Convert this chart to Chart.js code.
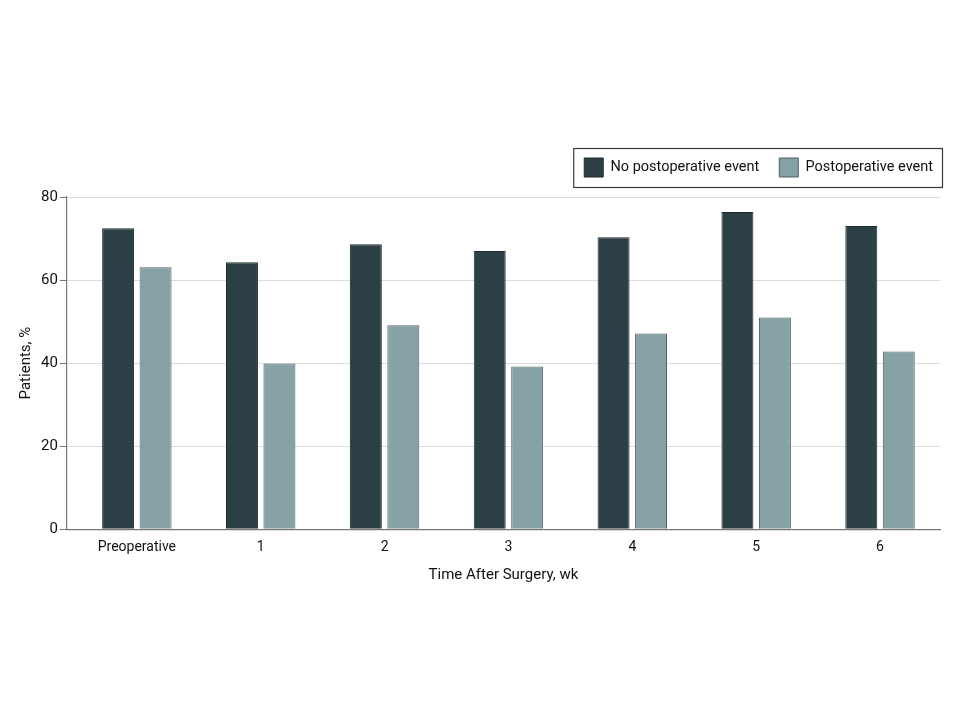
<!DOCTYPE html>
<html>
<head>
<meta charset="utf-8">
<script src="https://cdn.jsdelivr.net/npm/chart.js@4.4.1/dist/chart.umd.min.js"></script>
<style>
  html, body { margin: 0; padding: 0; background: #ffffff; }
  #wrap { width: 960px; height: 720px; }
</style>
</head>
<body>
<div id="wrap"><canvas id="eventChart" width="960" height="720"></canvas></div>
<script>
const categories = ["Preoperative", "1", "2", "3", "4", "5", "6"];
const noEventValues = [72.5, 64.3, 68.6, 67.0, 70.3, 76.4, 73.0];
const eventValues = [63.1, 39.9, 49.1, 39.2, 47.1, 51.0, 42.8];
const yTicks = [0, 20, 40, 60, 80];

const FONT = "Roboto, 'Open Sans', sans-serif";
const LEGEND_SHIFT = 13;

// extra room under the legend, nudge it right, and frame its items
const legendFrame = {
  id: "legendFrame",
  afterInit(chart) {
    const fit = chart.legend.fit;
    chart.legend.fit = function () {
      fit.call(this);
      this.height += 10;
    };
  },
  beforeDraw(chart) {
    const lg = chart.legend;
    lg.left += LEGEND_SHIFT;
    lg.right += LEGEND_SHIFT;
    lg.legendHitBoxes.forEach(b => { b.left += LEGEND_SHIFT; });
  },
  afterDraw(chart) {
    const boxes = chart.legend.legendHitBoxes;
    if (!boxes || !boxes.length) return;
    const left = Math.min(...boxes.map(b => b.left)) - 11;
    const right = Math.max(...boxes.map(b => b.left + b.width)) + 9;
    const top = Math.min(...boxes.map(b => b.top)) - 10;
    const bottom = Math.max(...boxes.map(b => b.top + b.height)) + 10;
    const ctx = chart.ctx;
    ctx.save();
    ctx.strokeStyle = "#3a3a3a";
    ctx.lineWidth = 1.2;
    ctx.strokeRect(left + 0.5, top + 0.5, right - left, bottom - top);
    ctx.restore();
  }
};

new Chart(document.getElementById("eventChart"), {
  type: "bar",
  data: {
    datasets: [
      {
        label: "No postoperative event",
        data: noEventValues.map((v, i) => ({ x: i, y: v })),
        backgroundColor: "#2c3f45",
        borderColor: "#1f2b2f",
        borderWidth: 1
      },
      {
        label: "Postoperative event",
        data: eventValues.map((v, i) => ({ x: i, y: v })),
        backgroundColor: "#86a2a6",
        borderColor: "#4f5f62",
        borderWidth: 1
      }
    ]
  },
  options: {
    responsive: false,
    animation: false,
    devicePixelRatio: 1,
    categoryPercentage: 0.605,
    barPercentage: 0.853,
    layout: { padding: { top: 138, left: 13, right: 20, bottom: 132 } },
    plugins: {
      tooltip: { enabled: false },
      legend: {
        position: "top",
        align: "end",
        labels: {
          boxWidth: 19,
          boxHeight: 19,
          padding: 20,
          color: "#111",
          font: { family: FONT, size: 14.5 }
        }
      }
    },
    scales: {
      x: {
        type: "linear",
        offset: false,
        min: -0.565,
        max: 6.484,
        afterBuildTicks: scale => {
          scale.ticks = categories.map((_, i) => ({ value: i }));
        },
        grid: { display: false, drawTicks: false },
        border: { display: true, color: "#777", width: 1.2 },
        ticks: {
          padding: 10,
          color: "#111",
          font: { family: FONT, size: 14 },
          callback: v => categories[v]
        },
        title: {
          display: true,
          text: "Time After Surgery, wk",
          color: "#111",
          font: { family: FONT, size: 15 },
          padding: { top: 0 }
        }
      },
      y: {
        min: 0,
        max: 80,
        afterBuildTicks: scale => {
          scale.ticks = yTicks.map(v => ({ value: v }));
        },
        grid: { color: "#dcdcdc", tickColor: "#777", tickLength: 7 },
        border: { display: true, color: "#777", width: 1.2 },
        ticks: {
          padding: 2,
          color: "#111",
          font: { family: FONT, size: 15 }
        },
        title: {
          display: true,
          text: "Patients, %",
          color: "#111",
          font: { family: FONT, size: 15 },
          padding: { bottom: 4 }
        }
      }
    }
  },
  plugins: [legendFrame]
});
</script>
</body>
</html>
